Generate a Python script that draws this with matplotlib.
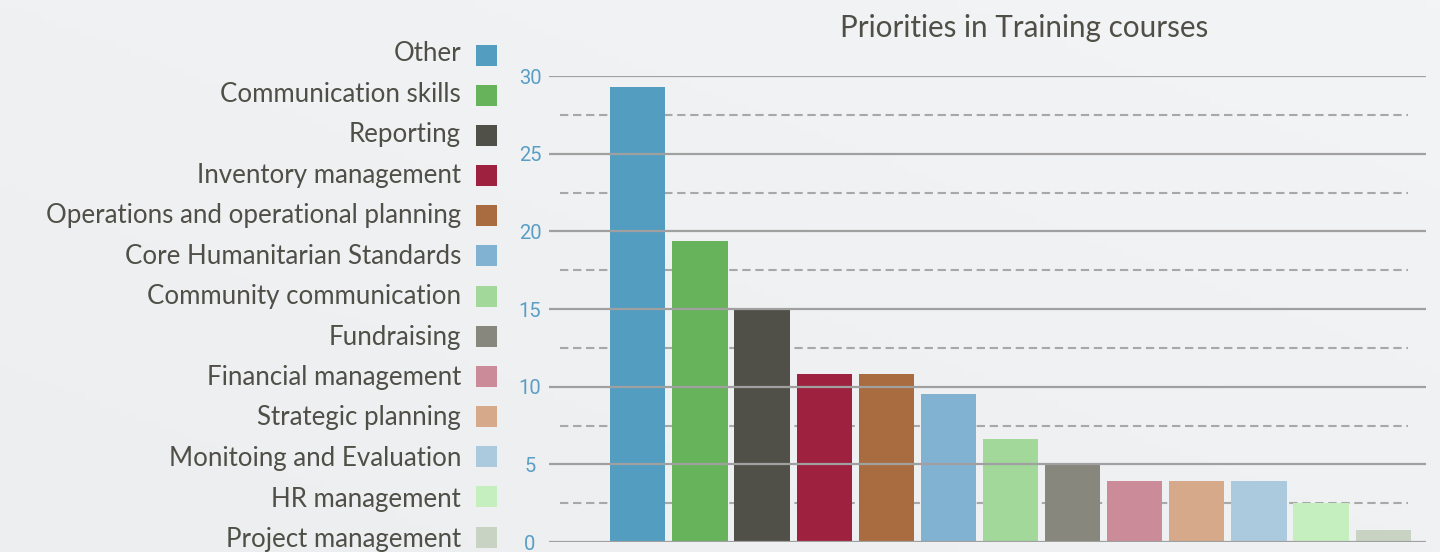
import numpy as np
import matplotlib.pyplot as plt
from matplotlib.colors import LinearSegmentedColormap
from matplotlib.patches import Rectangle

# training course priorities, share of answers
courses = [
    "Other", "Communication skills", "Reporting", "Inventory management",
    "Operations and operational planning", "Core Humanitarian Standards",
    "Community communication", "Fundraising", "Financial management",
    "Strategic planning", "Monitoing and Evaluation", "HR management",
    "Project management",
]
shares = [29.3, 19.4, 15.0, 10.8, 10.8, 9.5, 6.6, 5.0, 3.9, 3.9, 3.9, 2.5, 0.8]
colors = [
    "#529dc0", "#67b35c", "#515048", "#9e2140", "#a96c40", "#82b2d1",
    "#a2d89a", "#87877d", "#cb8b99", "#d5a98a", "#abcade", "#c5efbe",
    "#c8d3c3",
]
yticks = [0, 5, 10, 15, 20, 25, 30]
half_ticks = [2.5, 7.5, 12.5, 17.5, 22.5, 27.5]

W, H = 1440, 552
text_col = "#4f4f47"
fig = plt.figure(figsize=(W / 100, H / 100), dpi=100)

# soft background gradient
bg = fig.add_axes([0, 0, 1, 1], zorder=-10)
gx, gy = np.meshgrid(np.linspace(0, 1, 200), np.linspace(0, 1, 80))
grad = 0.5 * gx + 0.5 * gy
bg.imshow(grad, cmap=LinearSegmentedColormap.from_list("bg", ["#eceef0", "#f3f4f5"]),
          extent=[0, 1, 0, 1], aspect="auto", origin="lower")
bg.axis("off")

# bar chart area
x0, x1 = 549, 1426
y0, y1 = 542, 76
ax = fig.add_axes([x0 / W, 1 - y0 / H, (x1 - x0) / W, (y0 - y1) / H])
ax.patch.set_alpha(0)
pos = np.arange(len(courses))
ax.bar(pos, shares, width=0.89, color=colors, zorder=2)
ax.set_xlim(-1.43, 12.69)
ax.set_ylim(0, 30)

for v in yticks:
    ax.axhline(v, color="#a0a0a0", lw=1.6, zorder=3)
ax.hlines(half_ticks, -1.25, 12.4, color="#a8a8a8", lw=1.5,
          linestyles=(0, (4, 2.25)), zorder=1)

for s in ax.spines.values():
    s.set_visible(False)
ax.set_xticks([])
ax.set_yticks(yticks)
ax.tick_params(axis="y", length=0, pad=13.7, labelcolor="#5a9ec5",
               labelsize=14.5)
for lbl in ax.get_yticklabels():
    lbl.set_fontfamily(["Liberation Sans Narrow", "Roboto"])
    lbl.set_horizontalalignment("center")
    lbl.set_verticalalignment("center_baseline")

fig.text(1024 / W, 1 - 37 / H, "Priorities in Training courses",
         ha="center", va="baseline", fontsize=21.3, color=text_col,
         family="Lato")

# legend on the left, labels right-aligned next to the swatches
for i, (name, c) in enumerate(zip(courses, colors)):
    fig.text(461 / W, 1 - (61 + i * 40.5) / H, name, ha="right",
             va="baseline", fontsize=18.6, color=text_col, family="Lato")
    yc = 55 + i * 40.17
    fig.patches.append(Rectangle((476 / W, 1 - (yc + 10.5) / H), 21 / W,
                                 21 / H, transform=fig.transFigure,
                                 facecolor=c, edgecolor="none"))

fig.savefig("out.png", dpi=100)
